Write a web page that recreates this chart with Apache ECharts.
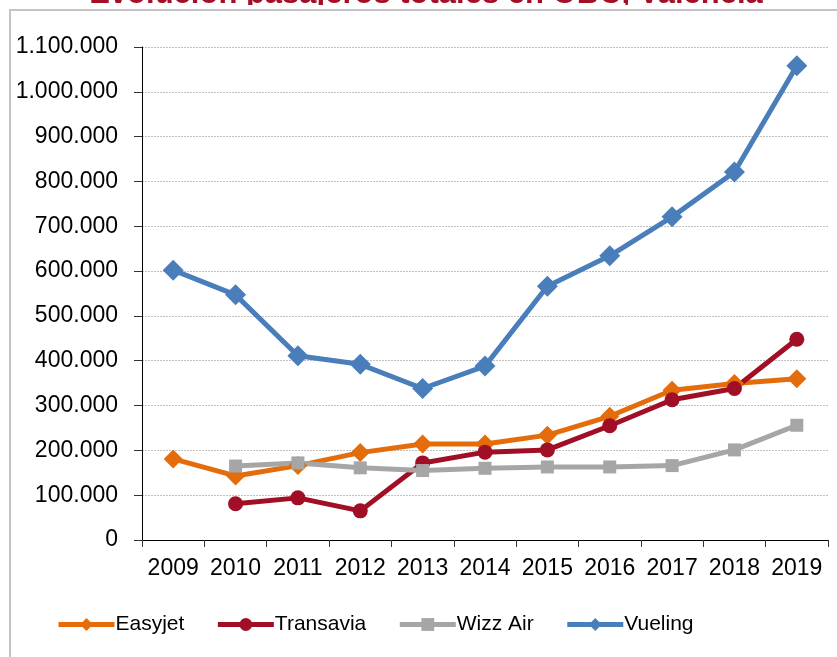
<!DOCTYPE html>
<html>
<head>
<meta charset="utf-8">
<script src="https://cdn.jsdelivr.net/npm/echarts@6/dist/echarts.min.js"></script>
<style>
  html, body { margin: 0; padding: 0; background: #fff; }
  #chart { width: 837px; height: 657px; }
</style>
</head>
<body>
<div id="chart"></div>
<script>
// años y pasajeros por aerolínea
var years = ['2009', '2010', '2011', '2012', '2013', '2014', '2015', '2016', '2017', '2018', '2019'];
var easyjet = [181000, 143000, 166000, 195000, 214000, 214000, 234000, 276000, 334000, 349000, 360000];
var transavia = [null, 81000, 94000, 65000, 172000, 196000, 201000, 255000, 313000, 338000, 448000];
var wizzAir = [null, 165000, 172000, 161000, 155000, 160000, 163000, 163000, 166000, 201000, 256000];
var vueling = [602000, 547000, 411000, 392000, 338000, 388000, 566000, 634000, 721000, 821000, 1058000];

var chart = echarts.init(document.getElementById('chart'));

function miles(v) {  // 1100000 -> 1.100.000
  return String(v).replace(/\B(?=(\d{3})+(?!\d))/g, '.');
}

function serie(name, data, color, symbol, size) {
  return {
    name: name,
    type: 'line',
    data: data,
    symbol: symbol,
    symbolSize: size,
    connectNulls: false,
    lineStyle: { color: color, width: 5 },
    itemStyle: { color: color },
    emphasis: { disabled: true }
  };
}

var option = {
  animation: false,
  textStyle: { fontFamily: 'Liberation Sans, Arial, sans-serif' },
  graphic: [
    {
      type: 'text',
      x: 426,
      y: 10,
      style: {
        text: 'Evolución pasajeros totales en OBC, Valencia',
        fill: '#a50f26',
        font: 'bold 31px Liberation Sans, Arial, sans-serif',
        align: 'center',
        verticalAlign: 'bottom'
      },
      silent: true
    },
    {
      // tapa la parte baja del título, como en el original recortado
      type: 'rect',
      shape: { x: 0, y: 5, width: 837, height: 4 },
      style: { fill: '#fff' },
      silent: true
    },
    {
      type: 'rect',
      shape: { x: 10, y: 10, width: 900, height: 700 },
      style: { fill: 'none', stroke: '#c4c4c4', lineWidth: 2 },
      silent: true
    }
  ],
  grid: { left: 142, right: 9, top: 47, bottom: 117 },
  legend: {
    left: 51,
    top: 609,
    itemWidth: 56,
    itemHeight: 16,
    itemGap: 31,
    lineStyle: { width: 5 },
    textStyle: { fontSize: 21, color: '#000', padding: [0, 0, 0, -4] },
    data: ['Easyjet', 'Transavia', 'Wizz Air', 'Vueling']
  },
  xAxis: {
    type: 'category',
    data: years,
    boundaryGap: true,
    axisLine: { lineStyle: { color: '#000', width: 1 } },
    axisTick: { show: true, interval: 0, length: 7, lineStyle: { color: '#333' } },
    axisLabel: { color: '#000', fontSize: 23, margin: 17, interval: 0 }
  },
  yAxis: {
    type: 'value',
    min: 0,
    max: 1100000,
    interval: 100000,
    axisLine: { show: true, lineStyle: { color: '#000', width: 1 } },
    axisTick: { show: true, length: 8, lineStyle: { color: '#333' } },
    axisLabel: { color: '#000', fontSize: 23, margin: 24, formatter: miles },
    splitLine: { lineStyle: { color: '#c0c0c0', type: [2, 1], width: 1 } }
  },
  series: [
    serie('Easyjet', easyjet, '#e46c0a', 'diamond', 19),
    serie('Transavia', transavia, '#a00f26', 'circle', 15),
    serie('Wizz Air', wizzAir, '#a6a6a6', 'rect', 13),
    serie('Vueling', vueling, '#4a7ebb', 'diamond', 21)
  ]
};

chart.setOption(option);
</script>
</body>
</html>
